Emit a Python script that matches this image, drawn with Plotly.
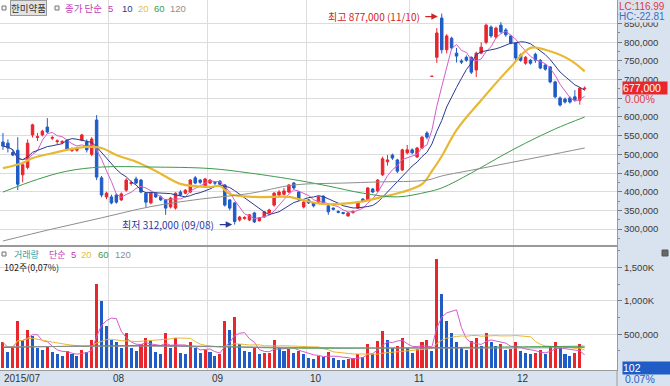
import plotly.graph_objects as go
import pandas as pd

# ---------------- data (values in thousand won / thousand shares) ----------------
month_start_idx = [0, 22, 42, 62, 83, 104]
month_labels = ["2015/07", "08", "09", "10", "11", "12"]

opens = [533,530,505,511,445,465,552,545,552,573,543,534,532,538,510,511,538,533,500,592,
         437,386,386,391,378,404,422,434,431,396,370,396,386,378,359,356,399,396,399,437,
         431,412,423,424,428,418,378,370,324,328,324,343,322,332,343,364,391,393,399,423,
         399,359,378,370,372,388,362,356,347,344,335,344,356,380,378,407,402,445,480,498,
         485,458,504,512,493,517,557,709,760,865,780,811,771,750,760,760,726,771,800,841,
         814,846,833,817,798,766,744,752,768,752,739,734,694,651,648,651,654,645,676]
highs = [557,540,512,546,480,540,582,557,566,597,550,540,538,540,518,520,555,540,546,605,
         442,400,392,395,398,436,430,440,434,398,400,399,390,380,386,398,404,407,434,442,
         434,437,434,427,431,420,380,372,335,334,340,346,332,348,354,399,404,410,420,426,
         402,375,381,372,389,390,364,358,350,346,345,350,374,383,412,410,434,494,498,502,
         488,515,525,516,520,549,562,709,838,877,822,815,785,755,765,762,775,800,850,845,
         842,854,838,820,800,770,763,755,772,755,742,736,697,655,652,655,672,680,682]
lows = [512,505,495,404,425,460,545,536,548,556,538,528,527,510,506,507,535,505,495,431,
        385,380,366,368,375,400,416,420,396,359,366,383,375,338,355,352,388,393,396,420,
        420,410,420,418,415,360,350,312,320,325,321,316,320,330,341,360,388,390,396,405,
        375,355,367,358,370,367,338,350,342,339,333,341,354,372,375,396,399,442,470,485,
        450,455,500,500,490,514,540,709,745,770,770,780,746,742,748,715,707,768,795,812,
        810,824,815,795,752,748,740,740,745,728,724,690,650,628,636,636,642,633,671]
closes = [522,517,498,420,472,530,579,547,562,560,545,536,534,514,514,513,552,512,541,439,
          391,396,370,372,394,431,424,423,399,372,396,386,378,356,383,396,391,404,431,423,
          425,434,431,423,420,364,356,320,332,331,338,319,330,346,351,396,399,402,418,410,
          378,372,370,362,386,370,346,353,345,342,343,347,372,375,410,399,431,488,485,490,
          455,512,512,504,517,546,546,709,825,780,817,785,763,747,752,720,771,787,846,817,
          838,828,820,798,758,752,760,744,752,731,728,694,654,632,640,640,646,677,677]
volumes = [380,230,300,700,420,560,480,300,260,330,240,200,180,250,200,170,260,230,420,1250,
           1000,620,420,380,300,520,300,250,350,450,420,230,200,520,300,450,220,200,380,300,
           220,260,230,180,200,700,560,760,350,250,240,300,200,220,220,420,300,250,280,220,
           250,200,150,130,180,160,230,150,120,110,130,140,200,160,350,200,400,550,420,300,
           320,450,300,220,280,380,420,250,1630,1100,700,520,380,300,260,400,450,320,520,380,
           320,350,260,280,380,250,220,200,220,260,200,330,380,300,200,180,220,350,0.102]

# moving-average lines (index, value)
ma20_idx = [0,4,6,10,13,17,20,23,27,30,32,36,42,44,46,51,58,60,65,72,77,81,85,87,89,92,97,103,107,110,115,118]
ma20_val = [463,477,490,503,512,520,517,498,480,462,448,421,413,415,394,386,386,380,367,372,386,399,420,455,495,565,645,734,785,780,753,722]
ma60_idx = [0,7,13,20,30,42,50,60,66,73,80,86,89,95,101,106,112,118]
ma60_val = [399,433,455,466,466,462,450,430,415,396,386,399,410,450,495,530,568,600]
ma120_idx = [0,10,20,30,40,50,59,69,76,86,89,96,103,110,118]
ma120_val = [268,300,330,360,380,395,418,423,426,431,442,460,478,496,517]
vma60_idx = [0,30,60,90,118]
vma60_val = [300,330,290,300,320]
vma120_idx = [0,30,60,90,118]
vma120_val = [310,320,300,290,300]

# ---------------- helpers ----------------
K = 1000
N = len(closes)
x = list(range(N))
o = [v * K for v in opens]; h = [v * K for v in highs]
l = [v * K for v in lows]; c = [v * K for v in closes]
vol = [v * K for v in volumes]
cs = pd.Series(c)
ma5 = cs.rolling(5, min_periods=1).mean()
ma10 = cs.rolling(10, min_periods=1).mean()
vs = pd.Series(vol)
vma5 = vs.rolling(5, min_periods=1).mean()
vma20 = vs.rolling(20, min_periods=1).mean()

RED = "#e8262e"; BLUE = "#1f5cc6"
C5 = "#d65ccb"; C10 = "#2b3a8f"; C20 = "#e8b834"; C60 = "#3d9a4c"; C120 = "#8e8e8e"
BAND = "#d9e2ef"; GRID = "#dcdcdc"; FONT = "Liberation Sans"; KFONT = "Noto Sans CJK KR"

W, H = 670, 386
ML, MR, MT, MB = 0, 53, 0, 16
PW, PH = W - ML - MR, H - MT - MB
def px(xp): return (xp - ML) / PW
def py(yp): return 1 - (yp - MT) / PH

fig = go.Figure()
fig.add_trace(go.Candlestick(x=x, open=o, high=h, low=l, close=c,
    increasing=dict(line=dict(color=RED, width=1), fillcolor=RED),
    decreasing=dict(line=dict(color=BLUE, width=1), fillcolor=BLUE),
    whiskerwidth=0, showlegend=False, xaxis="x", yaxis="y"))
fig.add_trace(go.Scatter(x=x, y=ma5, mode="lines", line=dict(color=C5, width=1), xaxis="x", yaxis="y"))
fig.add_trace(go.Scatter(x=x, y=ma10, mode="lines", line=dict(color=C10, width=1), xaxis="x", yaxis="y"))
fig.add_trace(go.Scatter(x=ma20_idx, y=[v*K for v in ma20_val], mode="lines", line=dict(color=C20, width=2.2, shape="spline"), xaxis="x", yaxis="y"))
fig.add_trace(go.Scatter(x=ma60_idx, y=[v*K for v in ma60_val], mode="lines", line=dict(color=C60, width=1, shape="spline"), xaxis="x", yaxis="y"))
fig.add_trace(go.Scatter(x=ma120_idx, y=[v*K for v in ma120_val], mode="lines", line=dict(color=C120, width=1, shape="spline"), xaxis="x", yaxis="y"))

# volume bars: red when volume rose versus the previous day, blue when it fell
bar_colors = [RED] + [RED if vol[i] >= vol[i - 1] else BLUE for i in range(1, N)]
fig.add_trace(go.Bar(x=x, y=vol, marker=dict(color=bar_colors, line=dict(width=0)), width=0.62, xaxis="x2", yaxis="y2"))
fig.add_trace(go.Scatter(x=x, y=vma5, mode="lines", line=dict(color=C5, width=1), xaxis="x2", yaxis="y2"))
fig.add_trace(go.Scatter(x=x, y=vma20, mode="lines", line=dict(color=C20, width=1), xaxis="x2", yaxis="y2"))
fig.add_trace(go.Scatter(x=vma60_idx, y=[v*K for v in vma60_val], mode="lines", line=dict(color=C60, width=1, shape="spline"), xaxis="x2", yaxis="y2"))
fig.add_trace(go.Scatter(x=vma120_idx, y=[v*K for v in vma120_val], mode="lines", line=dict(color=C120, width=1, shape="spline"), xaxis="x2", yaxis="y2"))

xr = [-0.6, 124.55]
grid_x = [i - 0.5 for i in month_start_idx[1:]]
xcommon = dict(range=xr, showticklabels=False, tickmode="array", tickvals=grid_x, showgrid=True,
               gridcolor=GRID, gridwidth=1, zeroline=False, showline=True, linecolor="#9a9a9a", mirror=True,
               ticks="", rangeslider=dict(visible=False), fixedrange=True)
price_ticks = [v * K for v in range(300, 851, 50)]
price_text = ["" if v == 650 * K else f"{v:,d}" for v in price_ticks]
price_minor = [v * K for v in range(275, 900, 50)]
y_top = 913300; y_bot = 257200
vol_top = 1809000; vol_bot = -37500
tickfont = dict(family=FONT, size=9.5, color="#3a3a3a")

fig.update_layout(
    width=W, height=H, margin=dict(l=ML, r=MR, t=MT, b=MB),
    paper_bgcolor=BAND, plot_bgcolor="white", showlegend=False,
    bargap=0, boxgap=0.28, hovermode=False,
    xaxis=dict(anchor="y", **xcommon),
    xaxis2=dict(anchor="y2", **xcommon),
    yaxis=dict(domain=[py(245), 1], range=[y_bot, y_top], side="right", tickmode="array",
               tickvals=price_ticks, ticktext=price_text, showgrid=True, gridcolor=GRID,
               ticks="outside", ticklen=4, tickcolor="#777", zeroline=False, showline=True,
               linecolor="#9a9a9a", mirror=True, tickfont=tickfont, fixedrange=True,
               minor=dict(tickmode="array", tickvals=price_minor, ticks="outside", ticklen=2, tickcolor="#888", showgrid=False)),
    yaxis2=dict(domain=[0, py(247)], range=[vol_bot, vol_top], side="right", tickmode="array",
                tickvals=[500000, 1000000, 1500000], ticktext=["500,000", "1,000K", "1,500K"],
                showgrid=True, gridcolor=GRID, ticks="outside", ticklen=4, tickcolor="#777",
                zeroline=False, showline=True, linecolor="#9a9a9a", mirror=True, tickfont=tickfont, fixedrange=True,
                minor=dict(tickmode="array", tickvals=[250000, 750000, 1250000, 1750000], ticks="outside", ticklen=2, tickcolor="#888", showgrid=False)),
)

ann = []
def text(xp, yp, s, color, size=9.5, family=KFONT, xanchor="left", **kw):
    ann.append(dict(x=px(xp), y=py(yp), xref="paper", yref="paper", text=s, showarrow=False,
                    xanchor=xanchor, yanchor="middle", font=dict(family=family, size=size, color=color), **kw))

# top-left legend
text(10, 8, "한미약품", "#333", size=9.5, bgcolor="#e2e2e2", bordercolor="#9a9a9a", borderwidth=1, borderpad=0)
text(63, 8, "종가 단순", "#c23ab5")
text(106, 8, "5", "#c23ab5", family=FONT)
text(120, 8, "10", C10, family=FONT)
text(136, 8, "20", "#e3c043", family=FONT)
text(152, 8, "60", C60, family=FONT)
text(168, 8, "120", C120, family=FONT)
# volume legend
text(12, 254, "거래량", "#2e9fa8", size=9)
text(47, 254, "단순", "#c23ab5", size=9)
text(69, 254, "5", "#c23ab5", family=FONT)
text(79, 254, "20", "#e3c043", family=FONT)
text(96, 254, "60", C60, family=FONT)
text(113, 254, "120", C120, family=FONT)
text(2, 267, "102주(0,07%)", "#222", size=9)
# x labels
for i, lab in zip(month_start_idx, month_labels):
    ann.append(dict(x=i - 0.5 if i else xr[0], y=py(378), xref="x2", yref="paper", text=lab, showarrow=False,
                    xanchor="left", yanchor="middle", xshift=2, font=dict(family=FONT, size=10, color="#333")))
# right side labels
text(618, 6.5, "LC:116.99", "#e03a3a", size=10, family=FONT, bgcolor=BAND, borderpad=0)
text(618, 17, "HC:-22.81", "#3a70c4", size=10, family=FONT, bgcolor=BAND, borderpad=0)
text(622, 88, "677,000" + "&nbsp;" * 2, "white", size=10.5, family=FONT, bgcolor=RED, borderpad=0)
text(623, 99, "0.00%", "#e03a3a", size=10.5, family=FONT)
text(622, 368, "102" + "&nbsp;" * 10, "white", size=10.5, family=FONT, bgcolor=BLUE, borderpad=0)
text(623, 379, "0.07%", "#2a5fc0", size=10.5, family=FONT)

# high / low markers
hi_i = max(range(N), key=lambda i: h[i]); lo_i = min(range(N), key=lambda i: l[i])
ann.append(dict(x=hi_i - 0.8, y=h[hi_i], xref="x", yref="y", text="", showarrow=True, ax=-14, ay=0, yshift=-3,
                arrowhead=2, arrowsize=1, arrowwidth=1.3, arrowcolor="#d42323"))
ann.append(dict(x=hi_i - 0.8, y=h[hi_i], xref="x", yref="y", text="최고 877,000 (11/10)", showarrow=False,
                xanchor="right", xshift=-16, yshift=-3, font=dict(family=KFONT, size=10, color="#d42323")))
ann.append(dict(x=lo_i - 0.5, y=l[lo_i], xref="x", yref="y", text="", showarrow=True, ax=-14, ay=0,
                arrowhead=2, arrowsize=1, arrowwidth=1.3, arrowcolor="#2b3a9a"))
ann.append(dict(x=lo_i - 0.5, y=l[lo_i], xref="x", yref="y", text="최저 312,000 (09/08)", showarrow=False,
                xanchor="right", xshift=-16, font=dict(family=KFONT, size=10, color="#2b3a9a")))
fig.update_layout(annotations=ann)

shapes = []
for (x0, y0) in [(4, 8), (57, 8), (4, 254)]:
    shapes.append(dict(type="rect", xref="paper", yref="paper", x0=px(x0 - 2), x1=px(x0 + 2),
                       y0=py(y0 + 2), y1=py(y0 - 2), line=dict(color="#777", width=1), fillcolor="#f4f4f4"))
shapes.append(dict(type="rect", xref="paper", yref="paper", x0=px(662), x1=px(668), y0=py(256), y1=py(250),
                   line=dict(color="#555", width=1), fillcolor="#666"))
shapes.append(dict(type="line", xref="paper", yref="paper", x0=px(617), x1=px(617), y0=py(386), y1=py(370),
                   line=dict(color="#9a9a9a", width=1)))
fig.update_layout(shapes=shapes)

fig.write_html("out.html", config={"displayModeBar": False, "staticPlot": True},
               post_script="document.body.style.margin='0';")
